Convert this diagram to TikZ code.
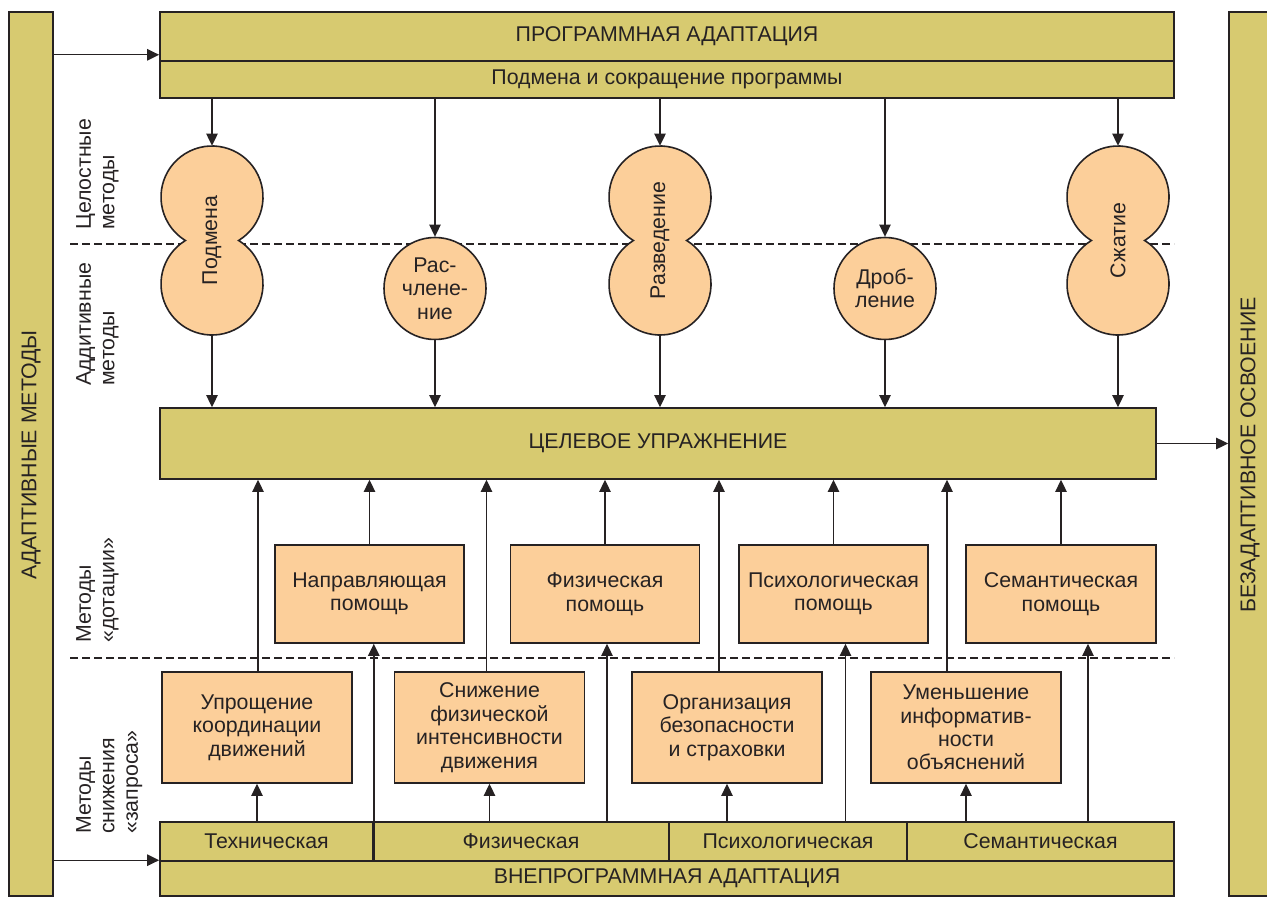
\documentclass[tikz,border=0pt]{standalone}
\usepackage{fontspec}
\setmainfont{Liberation Sans}
\usetikzlibrary{arrows.meta}
\newdimen\px \px=0.75pt
\definecolor{olv}{RGB}{215,202,112}
\definecolor{pch}{RGB}{252,207,154}
\definecolor{lc}{RGB}{38,34,35}
\begin{document}
\begin{tikzpicture}[x=0.75pt,y=-0.75pt,
  font=\fontsize{16}{17.6}\selectfont,
  obox/.style={draw=lc, line width=1.2pt, fill=olv, rectangle, inner sep=0pt, text=lc},
  pbox/.style={draw=lc, line width=1.2pt, fill=pch, rectangle, inner sep=0pt, align=center, text=lc},
  pcirc/.style={circle, fill=pch, draw=lc, line width=1.2pt, minimum size=102\px, inner sep=0pt, align=center, text=lc},
  pcircf/.style={circle, fill=pch, minimum size=102\px, inner sep=0pt},
  outl/.style={draw=lc, line width=1.2pt},
  arr/.style={draw=lc, line width=1.05pt, -{Triangle[length=9pt,width=8.5pt]}},
  dsh/.style={draw=lc, line width=0.9pt, dash pattern=on 6pt off 3pt},
  sidelab/.style={rotate=90, anchor=north west, align=left, inner sep=0pt, text=lc},
  rlab/.style={rotate=90, inner sep=0pt, text=lc}]
\useasboundingbox (0,0) rectangle (1267,898);
\clip (0,0) rectangle (1267,898);

% dashed separators
\coordinate (d1a) at (70,244); \coordinate (d1b) at (1174,244);
\coordinate (d2a) at (70,658); \coordinate (d2b) at (1174,658);
\draw[dsh] (d1a) -- (d1b);
\draw[dsh] (d2a) -- (d2b);

% side bars
\node[obox, minimum width=44\px, minimum height=884\px] (lbar) at (31,454) {};
\node[rlab] (lbart) at (31,455) {АДАПТИВНЫЕ МЕТОДЫ};
\node[obox, minimum width=48\px, minimum height=884\px] (rbar) at (1253,454) {};
\node[rlab] (rbart) at (1250,455) {БЕЗАДАПТИВНОЕ ОСВОЕНИЕ};

% side labels
\node[sidelab] (sl1) at (76,230) {Целостные\\методы};
\node[sidelab] (sl2) at (76,386) {Аддитивные\\методы};
\node[sidelab] (sl3) at (76,643) {Методы\\«дотации»};
\node[sidelab] (sl4) at (76,834) {Методы\\снижения\\«запроса»};

% top box
\node[obox, minimum width=1014\px, minimum height=49\px] (progA) at (667,36.5) {ПРОГРАММНАЯ АДАПТАЦИЯ};
\node[obox, minimum width=1014\px, minimum height=37\px] (progB) at (667,79.5) {Подмена и сокращение программы};

% target exercise
\node[obox, minimum width=996\px, minimum height=71\px] (cel) at (658,443.5) {ЦЕЛЕВОЕ УПРАЖНЕНИЕ};

% circles
\node[pcircf] (podT) at (212,197) {};
\node[pcircf] (podB) at (212,284) {};
\node[pcircf] (razT) at (660,197) {};
\node[pcircf] (razB) at (660,284) {};
\node[pcircf] (szhT) at (1118,197) {};
\node[pcircf] (szhB) at (1118,284) {};
\foreach \c in {pod,raz,szh}{
  \draw[outl] (\c T.center) ++(58.55:51) arc[start angle=58.55, end angle=-238.55, radius=51]
     arc[start angle=238.55, end angle=-58.55, radius=51] -- cycle;
}
\node[rlab] (podL) at (212,240.5) {Подмена};
\node[rlab] (razL) at (660,240.5) {Разведение};
\node[rlab] (szhL) at (1118,240.5) {Сжатие};
\node[pcirc] (rasch) at (435,288.5) {Рас-\\члене-\\ние};
\node[pcirc] (drob) at (885,288.5) {Дроб-\\ление};

% middle boxes
\node[pbox, minimum width=189\px, minimum height=98\px] (napr) at (369.5,594) {Направляющая\\помощь};
\node[pbox, minimum width=189\px, minimum height=98\px] (fiz) at (605,594) {Физическая\\помощь};
\node[pbox, minimum width=189\px, minimum height=98\px] (psy) at (833.5,594) {Психологическая\\помощь};
\node[pbox, minimum width=190\px, minimum height=98\px] (sem) at (1061,594) {Семантическая\\помощь};

% lower boxes
\node[pbox, minimum width=190\px, minimum height=111\px] (upr) at (257,727.5) {Упрощение\\координации\\движений};
\node[pbox, minimum width=190\px, minimum height=111\px] (snizh) at (489.5,727.5) {Снижение\\физической\\интенсивности\\движения};
\node[pbox, minimum width=190\px, minimum height=111\px] (org) at (727,727.5) {Организация\\безопасности\\и страховки};
\node[pbox, minimum width=190\px, minimum height=111\px] (umen) at (966,727.5) {Уменьшение\\информатив-\\ности\\объяснений};

% bottom bar
\node[obox, minimum width=1014\px, minimum height=35\px] (vne) at (667,878.5) {ВНЕПРОГРАММНАЯ АДАПТАЦИЯ};
\node[obox, minimum width=213\px, minimum height=39\px] (tech) at (266.5,841.5) {Техническая};
\node[obox, minimum width=296\px, minimum height=39\px] (fizc) at (521,841.5) {Физическая};
\node[obox, minimum width=238\px, minimum height=39\px] (psyc) at (788,841.5) {Психологическая};
\node[obox, minimum width=267\px, minimum height=39\px] (semc) at (1040.5,841.5) {Семантическая};

% connectors from top box to circles and from circles to target
\foreach \t/\b in {podT/podB, rasch/rasch, razT/razB, drob/drob, szhT/szhB}{
  \draw[arr] (progB.south -| \t) -- (\t.north);
  \draw[arr] (\b.south) -- (cel.north -| \b);
}

% entry arrows from left bar
\coordinate (inA) at ([yshift=7\px]progA.south west);
\draw[arr] (lbar.east |- inA) -- (inA);
\draw[arr] (lbar.east |- vne.north west) -- (vne.north west);
% exit arrow to right bar
\draw[arr] (cel.east) -- (rbar.west |- cel.east);

% middle boxes to target
\foreach \n in {napr,fiz,psy,sem}{
  \draw[arr] (\n.north) -- (cel.south -| \n.north);
}
% lower boxes to target
\coordinate (u1) at ([xshift=1\px]upr.north);
\coordinate (u2) at ([xshift=-3\px]snizh.north);
\coordinate (u3) at ([xshift=-8\px]org.north);
\coordinate (u4) at ([xshift=-19\px]umen.north);
\foreach \u in {u1,u2,u3,u4}{
  \draw[arr] (\u) -- (cel.south -| \u);
}
% cells to lower boxes
\draw[arr] (upr.south |- tech.north) -- (upr.south);
\draw[arr] (snizh.south |- fizc.north) -- (snizh.south);
\draw[arr] (org.south |- psyc.north) -- (org.south);
\draw[arr] (umen.south |- semc.north) -- (umen.south);
% cells to middle boxes
\coordinate (m1) at (tech.south east);
\coordinate (m2) at ([xshift=2\px]fiz.south);
\coordinate (m3) at ([xshift=12\px]psy.south);
\coordinate (m4) at ([xshift=27\px]sem.south);
\draw[arr] (m1) -- (napr.south -| m1);
\draw[arr] (fizc.north -| m2) -- (m2);
\draw[arr] (psyc.north -| m3) -- (m3);
\draw[arr] (semc.north -| m4) -- (m4);
\end{tikzpicture}
\end{document}
